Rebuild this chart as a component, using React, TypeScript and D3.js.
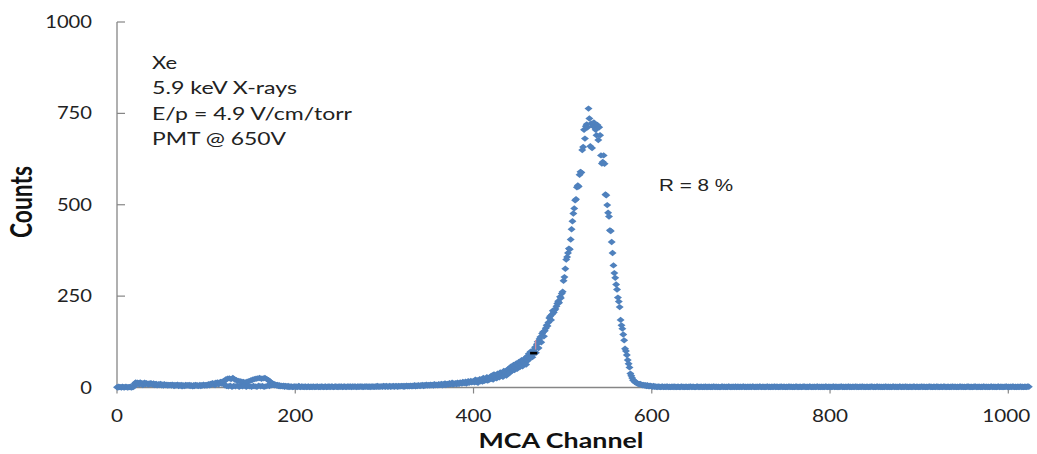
import React from "react";
import * as d3 from "d3";

// MCA spectrum, one count value per channel.
// Channels 0-199: threshold step and low-energy bumps.
const countsLow = [
  1, 0, 2, 1, 1, 0, 2, 1, 0, 1, 2, 1, 0, 1, 1, 2, 0, 1, 1, 3,
  11, 14, 9, 13, 12, 8, 14, 10, 12, 7, 11, 13, 9, 12, 10, 8, 11, 9, 12, 10,
  8, 11, 7, 9, 10, 6, 8, 9, 7, 10, 6, 8, 5, 9, 7, 6, 8, 5, 7, 6,
  7, 5, 8, 6, 4, 7, 5, 6, 8, 4, 6, 5, 7, 3, 6, 5, 4, 7, 5, 6,
  5, 7, 4, 6, 5, 3, 6, 4, 7, 5, 6, 4, 5, 7, 4, 6, 5, 8, 5, 6,
  7, 5, 8, 9, 6, 10, 8, 12, 9, 11, 7, 13, 10, 14, 9, 12, 15, 11, 16, 13,
  18, 6, 22, 4, 24, 3, 25, 5, 23, 2, 26, 4, 22, 3, 20, 5, 18, 2, 17, 4,
  16, 3, 15, 5, 14, 2, 16, 4, 17, 3, 19, 2, 21, 4, 23, 3, 24, 2, 25, 5,
  26, 3, 24, 4, 25, 2, 26, 3, 23, 5, 20, 4, 16, 6, 12, 7, 10, 6, 8, 5,
  7, 4, 6, 3, 5, 4, 3, 5, 2, 4, 3, 2, 4, 1, 3, 2, 3, 1, 2, 3,
];

// Channels 200-399: flat background rising into the low-energy tail.
const countsMid = [
  2, 3, 1, 2, 4, 2, 1, 3, 2, 2, 1, 3, 2, 1, 2, 3, 1, 2, 2, 1,
  3, 2, 1, 2, 2, 3, 1, 2, 1, 3, 2, 2, 1, 2, 3, 1, 2, 2, 3, 1,
  2, 3, 2, 1, 2, 3, 2, 2, 1, 3, 2, 2, 3, 1, 2, 3, 2, 1, 2, 3,
  2, 2, 3, 1, 3, 2, 2, 3, 2, 1, 3, 2, 2, 3, 2, 3, 1, 2, 3, 2,
  3, 2, 2, 3, 1, 3, 2, 3, 2, 2, 3, 2, 4, 2, 3, 2, 3, 3, 2, 4,
  3, 2, 4, 3, 2, 3, 4, 2, 3, 3, 4, 2, 3, 4, 3, 2, 4, 3, 3, 4,
  3, 4, 2, 4, 3, 5, 3, 4, 3, 5, 4, 3, 5, 4, 6, 3, 5, 4, 6, 5,
  4, 6, 5, 7, 4, 6, 5, 8, 5, 6, 7, 5, 8, 6, 7, 5, 9, 6, 8, 7,
  6, 9, 7, 8, 10, 6, 9, 8, 11, 7, 9, 10, 8, 12, 9, 10, 13, 8, 11, 10,
  12, 9, 13, 11, 10, 14, 12, 11, 15, 13, 12, 16, 11, 14, 17, 13, 15, 18, 14, 16,
];

// Channels 400-599: the 5.9 keV photopeak.
const countsPeak = [
  17, 14, 21, 15, 20, 13, 18, 23, 17, 22, 16, 26, 18, 24, 20, 28, 19, 25, 22, 30,
  24, 33, 22, 36, 27, 31, 25, 38, 30, 28, 41, 32, 37, 29, 45, 36, 40, 33, 49, 38,
  52, 41, 57, 46, 50, 62, 48, 55, 66, 51, 60, 70, 56, 64, 75, 58, 72, 67, 80, 63,
  85, 74, 92, 80, 98, 88, 83, 96, 104, 110, 95, 118, 125, 108, 133, 138, 124, 148, 152, 140,
  155, 162, 170, 168, 178, 190, 195, 185, 200, 210, 205, 212, 215, 222, 230, 236, 232, 248, 245, 257,
  262, 292, 302, 325, 350, 357, 368, 380, 378, 405, 433, 455, 476, 490, 512, 515, 548, 553, 550, 582,
  590, 588, 650, 658, 705, 681, 715, 720, 712, 763, 736, 660, 722, 655, 715, 725, 712, 705, 690, 718,
  677, 712, 690, 635, 613, 617, 635, 612, 528, 526, 499, 478, 468, 430, 428, 398, 368, 334, 313, 300,
  282, 268, 246, 235, 220, 185, 170, 161, 145, 129, 106, 100, 89, 75, 65, 55, 38, 32, 26, 20,
  19, 15, 14, 12, 11, 10, 9, 10, 8, 7, 6, 7, 5, 6, 4, 6, 4, 3, 5, 4,
];

// Channels 600-1023: background above the peak.
const countsHigh = [
  3, 2, 4, 2, 3, 2, 1, 3, 2, 2, 1, 2, 3, 1, 2, 2, 1, 3, 2, 1,
  2, 1, 2, 2, 1, 3, 1, 2, 1, 2, 2, 1, 1, 3, 2, 1, 2, 1, 2, 2,
  1, 2, 1, 3, 2, 1, 2, 2, 1, 1, 2, 3, 1, 2, 1, 2, 2, 1, 2, 1,
  3, 1, 2, 1, 2, 2, 1, 2, 1, 3, 2, 1, 2, 2, 1, 2, 1, 1, 2, 3,
  1, 2, 2, 1, 2, 1, 3, 2, 1, 2, 1, 2, 2, 1, 3, 1, 2, 2, 1, 2,
  2, 1, 2, 3, 1, 2, 1, 2, 2, 1, 2, 2, 1, 3, 2, 1, 2, 1, 2, 2,
  1, 3, 2, 1, 2, 2, 1, 2, 1, 2, 3, 1, 2, 1, 2, 2, 1, 2, 3, 1,
  2, 2, 1, 2, 1, 3, 2, 1, 2, 2, 1, 2, 1, 2, 3, 1, 2, 2, 1, 2,
  1, 2, 3, 1, 2, 1, 2, 2, 1, 2, 2, 3, 1, 2, 1, 2, 1, 3, 2, 1,
  2, 1, 2, 2, 1, 2, 3, 1, 2, 1, 2, 2, 1, 2, 1, 3, 2, 1, 2, 2,
  1, 2, 1, 2, 3, 1, 2, 2, 1, 2, 1, 2, 2, 3, 1, 2, 1, 2, 2, 1,
  2, 3, 1, 2, 1, 2, 2, 1, 2, 3, 1, 2, 1, 2, 2, 1, 3, 2, 1, 2,
  1, 2, 2, 1, 2, 1, 3, 2, 2, 1, 2, 1, 2, 3, 1, 2, 2, 1, 2, 1,
  2, 1, 3, 2, 1, 2, 2, 1, 2, 1, 2, 3, 1, 2, 2, 1, 2, 1, 3, 2,
  1, 2, 2, 1, 2, 3, 1, 2, 1, 2, 2, 1, 2, 1, 3, 2, 1, 2, 2, 1,
  2, 1, 2, 3, 1, 2, 2, 1, 2, 1, 2, 2, 3, 1, 2, 1, 2, 2, 1, 2,
  3, 1, 2, 1, 2, 2, 1, 2, 3, 1, 2, 1, 2, 2, 1, 2, 1, 3, 2, 1,
  2, 2, 1, 2, 1, 2, 3, 1, 2, 2, 1, 2, 1, 2, 2, 3, 1, 2, 1, 2,
  1, 2, 2, 3, 1, 2, 1, 2, 2, 1, 2, 1, 3, 2, 1, 2, 2, 1, 2, 1,
  2, 3, 1, 2, 2, 1, 2, 1, 2, 3, 1, 2, 2, 1, 2, 1, 2, 2, 3, 1,
  2, 1, 2, 2, 1, 3, 2, 1, 2, 1, 2, 2, 1, 2, 3, 1, 2, 1, 2, 2,
  1, 2, 3, 2,
];

const xTicks = [0, 200, 400, 600, 800, 1000];
const yTicks = [0, 250, 500, 750, 1000];
const infoLines = ["Xe", "5.9 keV X-rays", "E/p = 4.9 V/cm/torr", "PMT @ 650V"];
const resolutionLabel = "R = 8 %";
const xTitle = "MCA Channel";
const yTitle = "Counts";

// MCA cursor position on the rising edge
const cursorChannel = 467.5;
const cursorCount = 94;

const W = 1037;
const H = 454;
const AXIS = "#868686";
const BLUE = "#4F81BD";
const FONT = "Lato, 'Open Sans', sans-serif";

export default function App() {
  const counts = [...countsLow, ...countsMid, ...countsPeak, ...countsHigh];
  const points = counts.map((c, i) => ({ ch: i, c }));

  const x = d3.scaleLinear().domain([0, 1024]).range([117, 1029.7]);
  const y = d3.scaleLinear().domain([0, 1000]).range([387.5, 22]);

  // Flattened diamond marker
  const marker = "M0,-3.2L4,0L0,3.2L-4,0Z";

  const infoWidths = [25, 145, 200, 134];
  const infoX = 152;
  const infoBase = 68.5;
  const infoStep = 25.5;

  return (
    <svg
      width={W}
      height={H}
      viewBox={`0 0 ${W} ${H}`}
      style={{ position: "absolute", left: 0, top: 0, display: "block", background: "#fff" }}
    >
      <rect width={W} height={H} fill="#fff" />

      {/* y axis */}
      <line x1={x(0)} x2={x(0)} y1={y(1000)} y2={y(0)} stroke={AXIS} strokeWidth={1.3} />
      {yTicks.map((t) => (
        <g key={`yt${t}`}>
          <line x1={x(0)} x2={x(0) + 8} y1={y(t)} y2={y(t)} stroke={AXIS} strokeWidth={1.2} />
          <text
            x={92}
            y={y(t)}
            dy="0.36em"
            textAnchor="end"
            fontFamily={FONT}
            fontSize={17}
            fill="#222"
            textLength={String(t).length * 11.7}
            lengthAdjust="spacingAndGlyphs"
          >
            {t}
          </text>
        </g>
      ))}

      {/* x axis */}
      <line x1={x(0)} x2={x(1024)} y1={y(0)} y2={y(0)} stroke={AXIS} strokeWidth={1.3} />
      {xTicks.map((t) => (
        <g key={`xt${t}`}>
          <line x1={x(t)} x2={x(t)} y1={y(0)} y2={y(0) + 6} stroke={AXIS} strokeWidth={1.2} />
          <text
            x={x(t) - (t === 1000 ? 2 : 0)}
            y={421.7}
            textAnchor="middle"
            fontFamily={FONT}
            fontSize={17}
            fill="#222"
            textLength={String(t).length * 12}
            lengthAdjust="spacingAndGlyphs"
          >
            {t}
          </text>
        </g>
      ))}

      {/* spectrum */}
      <g fill={BLUE}>
        {points.map((p) => (
          <path key={p.ch} d={marker} transform={`translate(${x(p.ch)},${y(p.c)})`} />
        ))}
      </g>

      {/* cursor */}
      <line
        x1={x(cursorChannel) + 2}
        x2={x(cursorChannel) + 2}
        y1={y(cursorCount + 10)}
        y2={y(cursorCount + 36)}
        stroke="#e8909a"
        strokeWidth={1}
      />
      <rect x={x(cursorChannel) - 3.6} y={y(cursorCount) - 1.3} width={7.2} height={2.6} fill="#000" />

      {/* annotations */}
      {infoLines.map((s, i) => (
        <text
          key={s}
          x={infoX}
          y={infoBase + i * infoStep}
          fontFamily={FONT}
          fontSize={16.5}
          fill="#222"
          textLength={infoWidths[i]}
          lengthAdjust="spacingAndGlyphs"
        >
          {s}
        </text>
      ))}
      <text
        x={659}
        y={190.7}
        fontFamily="'Liberation Sans', Arial, sans-serif"
        fontSize={17}
        fill="#222"
        textLength={74}
        lengthAdjust="spacingAndGlyphs"
      >
        {resolutionLabel}
      </text>

      {/* axis titles */}
      <text
        x={561}
        y={448.3}
        textAnchor="middle"
        fontFamily={FONT}
        fontWeight="bold"
        fontSize={21}
        fill="#111"
        textLength={165}
        lengthAdjust="spacingAndGlyphs"
      >
        {xTitle}
      </text>
      <g transform="translate(32,202) scale(1.35,1) rotate(-90)">
        <text
          x={0}
          y={0}
          textAnchor="middle"
          fontFamily={FONT}
          fontWeight="bold"
          fontSize={22}
          fill="#111"
          textLength={72}
          lengthAdjust="spacingAndGlyphs"
        >
          {yTitle}
        </text>
      </g>
    </svg>
  );
}
